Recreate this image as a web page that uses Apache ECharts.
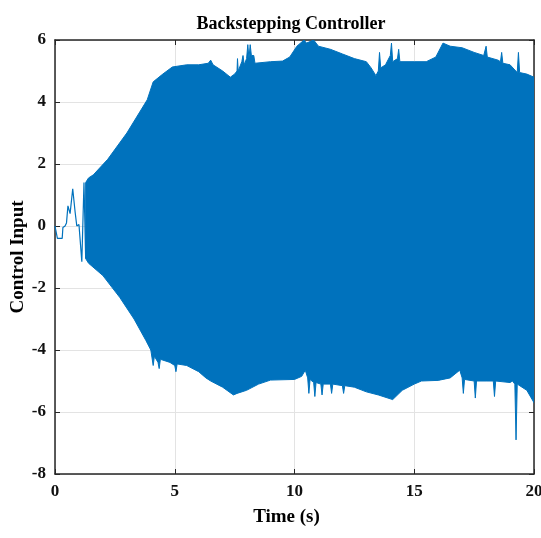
<!DOCTYPE html>
<html>
<head>
<meta charset="utf-8">
<script src="https://cdn.jsdelivr.net/npm/echarts@6/dist/echarts.min.js"></script>
<style>html,body{margin:0;padding:0;background:#fff}#c{width:541px;height:538px}</style>
</head>
<body>
<div id="c"></div>
<script>
// Early transient (single trace) before the high-frequency oscillation starts
const transientT = [0.0, 0.07, 0.1, 0.3, 0.33, 0.42, 0.48, 0.54, 0.63, 0.74, 0.84, 0.91, 1.0, 1.12, 1.21, 1.28];
const transientV = [0.0, 0.0, -0.4, -0.4, -0.05, 0.0, 0.1, 0.65, 0.4, 1.2, 0.45, 0.0, 0.05, -1.15, 1.4, -1.05];

// Upper envelope of the oscillation
const upperT = [1.28, 1.4, 1.6, 2.2, 3.0, 3.85, 4.1, 4.5, 4.9, 5.5, 6.0, 6.4, 6.5, 6.6, 7.0, 7.32, 7.5, 7.6, 7.62, 7.65, 7.8, 7.85, 7.9, 8.0, 8.05, 8.1, 8.15, 8.2, 8.3, 8.35, 9.0, 9.5, 9.8, 10.1, 10.4, 10.5, 10.8, 11.0, 11.5, 12.0, 12.5, 13.0, 13.2, 13.4, 13.5, 13.55, 13.6, 13.8, 14.0, 14.05, 14.1, 14.3, 14.35, 14.4, 15.0, 15.5, 15.9, 16.2, 16.5, 17.0, 17.5, 17.9, 18.0, 18.05, 18.5, 18.6, 18.65, 18.7, 19.0, 19.3, 19.35, 19.4, 19.7, 20.0];
const upperV = [1.4, 1.55, 1.65, 2.15, 3.0, 4.07, 4.65, 4.9, 5.13, 5.2, 5.2, 5.25, 5.35, 5.2, 5.0, 4.8, 4.9, 5.0, 5.4, 5.0, 5.3, 5.5, 5.2, 5.4, 5.85, 5.4, 5.85, 5.5, 5.5, 5.25, 5.3, 5.32, 5.45, 5.8, 6.0, 5.9, 6.0, 5.8, 5.7, 5.55, 5.4, 5.3, 5.1, 4.85, 5.0, 5.6, 5.1, 5.2, 5.5, 5.9, 5.3, 5.4, 5.7, 5.3, 5.3, 5.3, 5.45, 5.9, 5.8, 5.75, 5.6, 5.5, 5.8, 5.45, 5.35, 5.3, 5.6, 5.25, 5.2, 4.95, 5.6, 4.95, 4.9, 4.8];

// Lower envelope of the oscillation
const lowerT = [1.28, 1.4, 2.0, 2.7, 3.3, 3.8, 4.0, 4.1, 4.15, 4.3, 4.35, 4.4, 4.8, 5.0, 5.05, 5.1, 5.5, 6.0, 6.3, 6.5, 7.0, 7.45, 7.6, 8.0, 8.5, 9.0, 10.0, 10.3, 10.45, 10.55, 10.6, 10.65, 10.8, 10.85, 10.9, 11.1, 11.15, 11.2, 11.5, 11.55, 11.6, 12.0, 12.05, 12.1, 12.5, 13.0, 13.5, 14.1, 14.5, 15.0, 15.3, 16.0, 16.5, 16.9, 17.0, 17.05, 17.1, 17.5, 17.55, 17.6, 18.0, 18.3, 18.35, 18.4, 19.0, 19.1, 19.2, 19.25, 19.3, 19.5, 19.7, 20.0];
const lowerV = [-1.05, -1.2, -1.6, -2.3, -3.0, -3.7, -4.0, -4.5, -4.2, -4.4, -4.6, -4.3, -4.4, -4.5, -4.7, -4.45, -4.5, -4.7, -4.9, -5.0, -5.2, -5.45, -5.4, -5.3, -5.1, -4.97, -4.95, -4.85, -4.65, -4.9, -5.4, -4.95, -5.05, -5.5, -5.05, -5.1, -5.45, -5.1, -5.1, -5.4, -5.1, -5.15, -5.4, -5.15, -5.2, -5.35, -5.45, -5.6, -5.3, -5.1, -5.0, -4.98, -4.9, -4.65, -4.9, -5.4, -4.95, -5.0, -5.55, -5.0, -5.0, -5.0, -5.5, -5.0, -5.05, -5.0, -5.1, -6.9, -5.1, -5.2, -5.3, -5.7];

const xTicks = [0, 5, 10, 15, 20];
const yTicks = [-8, -6, -4, -2, 0, 2, 4, 6];

const pair = (ts, vs) => ts.map((t, i) => [t, vs[i]]);
const blue = '#0072BD';
const font = '"Liberation Serif", "Times New Roman", serif';
const axisColor = '#262626';

const upperPts = pair(upperT, upperV);
const lowerPts = pair(lowerT, lowerV);

const chart = echarts.init(document.getElementById('c'), null, {renderer: 'canvas'});
chart.setOption({
  animation: false,
  title: {
    text: 'Backstepping Controller',
    left: 286, top: 10, textAlign: 'center',
    textStyle: {fontFamily: font, fontWeight: 'bold', fontSize: 18, color: '#000'}
  },
  grid: {left: 55, top: 40, width: 479, height: 434, show: false, containLabel: false, outerBoundsMode: 'none'},
  xAxis: [{
    type: 'value', min: xTicks[0], max: xTicks[xTicks.length - 1], interval: 5,
    name: 'Time (s)', nameLocation: 'middle', nameGap: 34,
    nameTextStyle: {fontFamily: font, fontWeight: 'bold', fontSize: 19, color: '#000', padding: [0, 16, 0, 0]},
    axisLine: {show: true, onZero: false, lineStyle: {color: axisColor, width: 1.5}},
    axisTick: {show: true, inside: true, length: 5, lineStyle: {color: axisColor}},
    axisLabel: {fontFamily: font, fontWeight: 'bold', fontSize: 17, color: '#111', margin: 9},
    splitLine: {show: true, lineStyle: {color: '#e3e3e3', width: 1}}
  }, {
    type: 'value', position: 'top', min: xTicks[0], max: xTicks[xTicks.length - 1], interval: 5,
    axisLine: {show: true, onZero: false, lineStyle: {color: axisColor, width: 1.5}},
    axisTick: {show: true, inside: true, length: 5, lineStyle: {color: axisColor}},
    axisLabel: {show: false}, splitLine: {show: false}
  }],
  yAxis: [{
    type: 'value', min: yTicks[0], max: yTicks[yTicks.length - 1], interval: 2,
    name: 'Control Input', nameLocation: 'middle', nameGap: 27, nameRotate: 90, nameMoveOverlap: false,
    nameTextStyle: {fontFamily: font, fontWeight: 'bold', fontSize: 19, color: '#000'},
    axisLine: {show: true, onZero: false, lineStyle: {color: axisColor, width: 1.5}},
    axisTick: {show: true, inside: true, length: 5, lineStyle: {color: axisColor}},
    axisLabel: {fontFamily: font, fontWeight: 'bold', fontSize: 17, color: '#111', margin: 9},
    splitLine: {show: true, lineStyle: {color: '#e3e3e3', width: 1}}
  }, {
    type: 'value', position: 'right', min: yTicks[0], max: yTicks[yTicks.length - 1], interval: 2,
    axisLine: {show: true, onZero: false, lineStyle: {color: axisColor, width: 1.5}},
    axisTick: {show: true, inside: true, length: 5, lineStyle: {color: axisColor}},
    axisLabel: {show: false}, splitLine: {show: false}
  }],
  series: [{
    type: 'custom',
    data: [[0, 0]],
    clip: true,
    renderItem: function (params, api) {
      const pts = [];
      upperPts.forEach(p => pts.push(api.coord(p)));
      for (let i = lowerPts.length - 1; i >= 0; i--) pts.push(api.coord(lowerPts[i]));
      return {
        type: 'polygon',
        shape: {points: pts},
        style: {fill: blue, stroke: blue, lineWidth: 1}
      };
    },
    z: 2
  }, {
    type: 'line', data: pair(transientT, transientV), showSymbol: false, symbol: 'none',
    lineStyle: {color: blue, width: 1.2}, z: 3
  }]
});
</script>
</body>
</html>
